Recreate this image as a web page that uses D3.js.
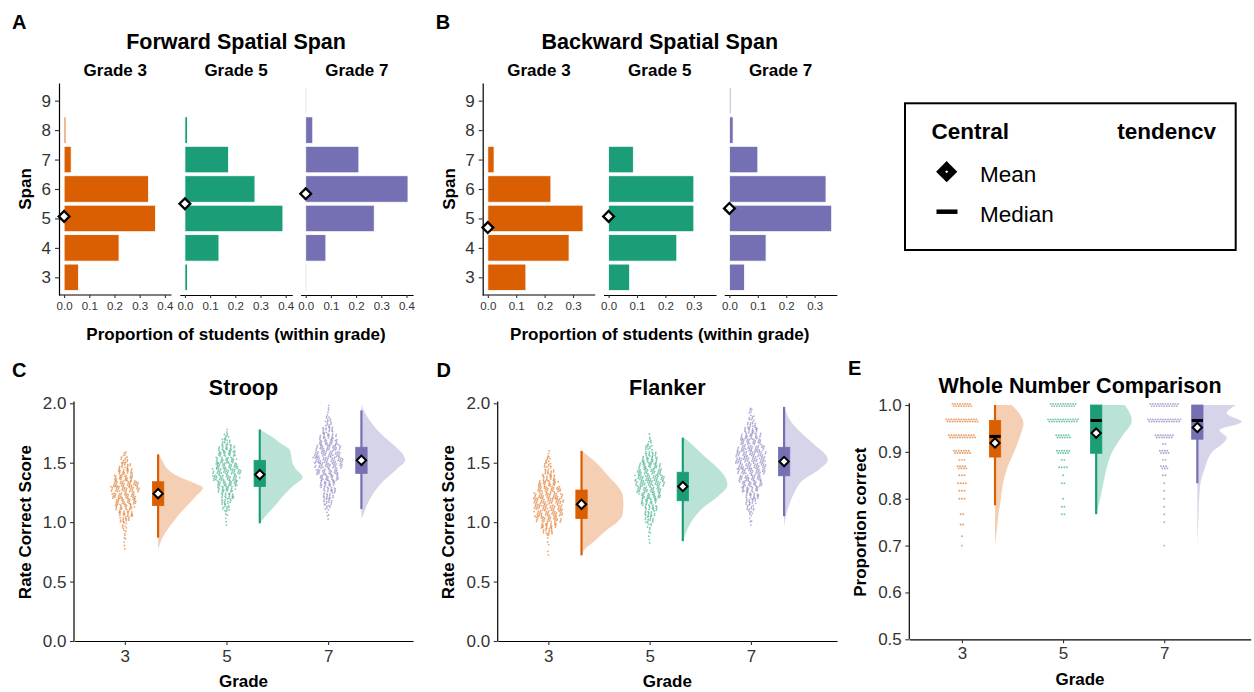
<!DOCTYPE html>
<html><head><meta charset="utf-8">
<script src="https://cdn.jsdelivr.net/npm/d3@7"></script>
<style>body{margin:0;background:#fff}svg{display:block}</style>
</head><body><svg id="chart" width="1254" height="692"></svg>
<script>
// ---------------- DATA ----------------
const gradeNums = [3, 5, 7];
const gradeLabels = ["Grade 3", "Grade 5", "Grade 7"];
const colors = ["#D95F02", "#1B9E77", "#7570B3"];

// Spatial span (proportion of students within grade), spans 3..9
const spanLevels = [3, 4, 5, 6, 7, 8, 9];
const fwdG3 = [0.057, 0.218, 0.363, 0.335, 0.028, 0.007, 0];
const fwdG5 = [0.010, 0.135, 0.389, 0.278, 0.173, 0.010, 0];
const fwdG7 = [0.003, 0.080, 0.272, 0.406, 0.211, 0.028, 0.003];
const fwdMeans = [5.07, 5.50, 5.84];
const bwdG3 = [0.134, 0.286, 0.335, 0.222, 0.022, 0, 0];
const bwdG5 = [0.074, 0.240, 0.300, 0.300, 0.087, 0, 0];
const bwdG7 = [0.053, 0.129, 0.360, 0.340, 0.100, 0.013, 0.005];
const bwdMeans = [4.69, 5.07, 5.34];
const fwdTicks = [0, 0.1, 0.2, 0.3, 0.4];
const bwdTicks = [0, 0.1, 0.2, 0.3];

// Stroop box stats per grade
const stroopLo = [0.87, 0.99, 1.11];
const stroopQ1 = [1.14, 1.30, 1.41];
const stroopQ3 = [1.34, 1.52, 1.63];
const stroopHi = [1.57, 1.78, 1.94];
const stroopMean = [1.24, 1.40, 1.52];
// Stroop half-violin [score, relative width]
const stroopDens3 = [[0.77,0],[0.87,0.1],[1.0,0.33],[1.12,0.6],[1.22,0.85],[1.29,1.0],[1.33,0.8],[1.38,0.48],[1.45,0.2],[1.5,0.12],[1.58,0]];
const stroopDens5 = [[0.99,0],[1.06,0.15],[1.15,0.37],[1.22,0.52],[1.3,0.73],[1.38,0.96],[1.45,0.8],[1.5,0.73],[1.56,0.7],[1.61,0.67],[1.66,0.48],[1.72,0.26],[1.78,0]];
const stroopDens7 = [[1.03,0],[1.07,0.05],[1.15,0.13],[1.25,0.28],[1.35,0.5],[1.45,0.8],[1.52,0.98],[1.58,0.91],[1.65,0.72],[1.75,0.42],[1.85,0.2],[1.92,0.08],[1.99,0]];
// Stroop dot counts per 0.05 bin, with first bin lower edge
const stroopBinStart = [0.75, 0.95, 1.0];
const stroopCounts3 = [1,2,3,4,6,14,20,24,28,32,36,34,26,20,14,10,4];
const stroopCounts5 = [1,2,4,10,14,18,22,28,34,36,30,26,24,20,12,7,2];
const stroopCounts7 = [1,3,8,12,15,18,21,26,30,35,38,35,31,26,21,15,9,6,3,2];

// Flanker
const flankerLo = [0.72, 0.84, 1.05];
const flankerQ1 = [1.03, 1.18, 1.39];
const flankerQ3 = [1.27, 1.42, 1.63];
const flankerHi = [1.60, 1.71, 1.97];
const flankerMean = [1.15, 1.30, 1.51];
const flankerDens3 = [[0.72,0],[0.77,0.07],[0.83,0.26],[0.88,0.4],[0.95,0.62],[1.0,0.8],[1.06,0.92],[1.15,0.94],[1.22,0.93],[1.29,0.84],[1.38,0.62],[1.5,0.33],[1.6,0]];
const flankerDens5 = [[0.83,0],[0.92,0.08],[1.02,0.22],[1.12,0.45],[1.22,0.8],[1.31,1.0],[1.38,0.95],[1.45,0.8],[1.55,0.5],[1.65,0.22],[1.72,0]];
const flankerDens7 = [[0.96,0],[1.05,0.04],[1.15,0.12],[1.25,0.23],[1.35,0.41],[1.45,0.81],[1.52,0.98],[1.57,0.93],[1.65,0.69],[1.75,0.39],[1.85,0.15],[1.97,0]];
const flankerBinStart = [0.70, 0.80, 0.95];
const flankerCounts3 = [1,1,2,3,14,22,32,36,38,38,36,32,25,18,14,10,7,3];
const flankerCounts5 = [1,2,3,6,12,15,18,22,27,33,37,37,33,27,22,16,10,5,2];
const flankerCounts7 = [1,3,6,10,15,19,23,28,31,35,38,39,38,34,29,25,19,12,8,4,1];

// Whole Number Comparison
const wncLo = [0.786, 0.767, 0.833];
const wncQ1 = [0.889, 0.897, 0.927];
const wncMedian = [0.933, 0.967, 0.967];
const wncQ3 = [0.967, 1.0, 1.0];
const wncHi = [1.0, 1.0, 1.0];
const wncMean = [0.919, 0.940, 0.952];
const wncDens3 = [[0.70,0],[0.733,0.04],[0.767,0.08],[0.8,0.13],[0.833,0.18],[0.867,0.28],[0.9,0.43],[0.933,0.56],[0.96,0.64],[1.0,0.38]];
const wncDens5 = [[0.767,0],[0.8,0.09],[0.833,0.16],[0.867,0.24],[0.9,0.36],[0.933,0.58],[0.967,0.8],[1.0,0.64]];
const wncDens7 = [[0.70,0],[0.75,0.02],[0.8,0.04],[0.833,0.07],[0.863,0.16],[0.897,0.31],[0.93,0.66],[0.946,0.5],[0.964,1.0],[0.982,0.66],[1.0,0.87]];
const wncDotVals3 = [1.0,0.967,0.933,0.9,0.883,0.867,0.85,0.833,0.817,0.8,0.767,0.745,0.72,0.7];
const wncDotCounts3 = [16,26,22,14,3,8,3,4,3,3,2,2,1,1];
const wncDotVals5 = [1.0,0.967,0.933,0.9,0.883,0.867,0.85,0.833,0.8,0.783,0.767];
const wncDotCounts5 = [21,25,12,11,2,4,1,2,1,2,2];
const wncDotVals7 = [1.0,0.967,0.933,0.917,0.9,0.883,0.867,0.85,0.833,0.817,0.8,0.783,0.767,0.75,0.7];
const wncDotCounts7 = [23,27,15,2,8,2,6,2,1,1,1,1,1,1,1];

const rcTicks = [0, 0.5, 1.0, 1.5, 2.0];
const wncTicks = [0.5, 0.6, 0.7, 0.8, 0.9, 1.0];

// ---------------- DRAWING ----------------
const FONT = "'Liberation Sans', Arial, Helvetica, sans-serif";
const svg = d3.select("#chart");
svg.append("rect").attr("width", 1254).attr("height", 692).attr("fill", "#fff");

const diamond = { draw(ctx, size) { const r = Math.sqrt(size / 2);
  ctx.moveTo(0, -r); ctx.lineTo(r, 0); ctx.lineTo(0, r); ctx.lineTo(-r, 0); ctx.closePath(); } };

function txt(x, y, s, size, weight, anchor, rot) {
  const t = svg.append("text").attr("font-family", FONT).attr("font-size", size)
    .attr("font-weight", weight || "normal").attr("text-anchor", anchor || "start")
    .attr("fill", "#000").text(s);
  if (rot) t.attr("transform", `translate(${x},${y}) rotate(${rot})`);
  else t.attr("x", x).attr("y", y);
  return t;
}
function styleAxis(g, fs) {
  g.attr("font-family", FONT).attr("font-size", fs);
  g.selectAll("path.domain").attr("stroke", "#000").attr("stroke-width", 1.2);
  g.selectAll(".tick line").attr("stroke", "#333").attr("stroke-width", 1.1);
  g.selectAll(".tick text").attr("fill", "#333");
}

// ----- span panels -----
function spanPanel(left, letter, title, series, means, ticks) {
  const y = d3.scaleLinear().domain([2.4, 9.6]).range([295, 83]);
  const xMax = d3.max(series.flat());
  const facetW = 112.5, gap = 8.3;
  const center = left + (3 * facetW + 2 * gap) / 2;
  series.forEach((vals, i) => {
    const x0 = left + i * (facetW + gap);
    const x = d3.scaleLinear().domain([-xMax * 0.05, xMax * 1.05]).range([x0, x0 + facetW]);
    const g = svg.append("g");
    g.selectAll("rect").data(vals).join("rect")
      .attr("x", x(0)).attr("width", d => Math.max(0, x(d) - x(0)))
      .attr("y", (d, j) => y(spanLevels[j] + 0.45))
      .attr("height", (d, j) => y(spanLevels[j] - 0.45) - y(spanLevels[j] + 0.45))
      .attr("fill", colors[i]).attr("stroke", "#fff").attr("stroke-width", 0.8);
    const ax = svg.append("g").attr("transform", `translate(0,${y(2.4)})`)
      .call(d3.axisBottom(x).tickValues(ticks).tickFormat(d3.format(".1f")).tickSize(3).tickPadding(4).tickSizeOuter(0));
    styleAxis(ax, 11.5);
    if (i === 0) ax.select("path.domain").attr("d", `M${left},0H${x0 + facetW}`);
    svg.append("path").attr("d", d3.symbol(diamond, 58)())
      .attr("transform", `translate(${x(0)},${y(means[i])})`)
      .attr("fill", "#fff").attr("stroke", "#000").attr("stroke-width", 2.3);
    txt((x0 + x0 + facetW) / 2, 76, gradeLabels[i], 17, "bold", "middle");
  });
  const ay = svg.append("g").attr("transform", `translate(${left},0)`)
    .call(d3.axisLeft(y).tickValues(spanLevels).tickSize(4).tickPadding(4).tickSizeOuter(0));
  styleAxis(ay, 17);
  txt(center, 48.5, title, 21.5, "bold", "middle");
  txt(center, 340, "Proportion of students (within grade)", 17, "bold", "middle");
  txt(left - 28, (y(9.6) + y(2.4)) / 2, "Span", 17, "bold", "middle", -90);
  txt(left - 47, 29.3, letter, 20, "bold", "start");
}
spanPanel(59, "A", "Forward Spatial Span", [fwdG3, fwdG5, fwdG7], fwdMeans, fwdTicks);
spanPanel(482.7, "B", "Backward Spatial Span", [bwdG3, bwdG5, bwdG7], bwdMeans, bwdTicks);

// ----- legend -----
svg.append("rect").attr("x", 905).attr("y", 103.3).attr("width", 330.7).attr("height", 146.7)
  .attr("fill", "none").attr("stroke", "#000").attr("stroke-width", 2);
txt(931.5, 138.5, "Central", 22.5, "bold", "start");
txt(1216, 138.5, "tendencv", 22.5, "bold", "end");
svg.append("path").attr("d", d3.symbol(diamond, 72)()).attr("transform", "translate(946.7,171.7)")
  .attr("fill", "#fff").attr("stroke", "#000").attr("stroke-width", 6.5);
txt(980, 181.5, "Mean", 22.5, "normal", "start");
svg.append("line").attr("x1", 936.5).attr("x2", 957.5).attr("y1", 211.7).attr("y2", 211.7)
  .attr("stroke", "#000").attr("stroke-width", 4.5);
txt(980, 221.5, "Median", 22.5, "normal", "start");

// ----- raincloud panels -----
const BOX_OFF = 0.655, BOX_HW = 0.112, DENS_W = 0.88;
const PHI1 = 0.7548776662, PHI2 = 0.5698402910; // low-discrepancy layout of dots inside each bin

function rainPanel(cfg) {
  const x = d3.scaleLinear().domain(cfg.xDomain).range([cfg.left, cfg.right]);
  const y = d3.scaleLinear().domain(cfg.yDomain).range([cfg.bottom, cfg.top]);
  const g = svg.append("g");
  gradeNums.forEach((gr, i) => {
    const bx = gr + BOX_OFF;
    // density
    const area = d3.area().curve(d3.curveMonotoneY)
      .y(d => y(d[0])).x0(x(bx)).x1(d => x(bx + d[1] * DENS_W));
    g.append("path").attr("d", area(cfg.dens[i])).attr("fill", colors[i]).attr("fill-opacity", 0.3);
    // dots
    const pts = [];
    if (cfg.mode === "bins") {
      const bw = 0.05;
      let k = 0;
      cfg.counts[i].forEach((n, b) => {
        const wpx = Math.max(1.5, n * 0.8);
        for (let j = 0; j < n; j++, k++) {
          const u = (0.5 + k * PHI1) % 1, v = (0.5 + k * PHI2) % 1;
          const val = cfg.binStart[i] + b * bw + v * bw;
          pts.push([x(gr) + (u - 0.5) * wpx, y(val)]);
        }
      });
    } else {
      cfg.dotVals[i].forEach((v, b) => {
        const n = cfg.dotCounts[i][b];
        const dx = n > 5 ? 1.25 : 2.6;
        for (let k = 0; k < n; k++) {
          pts.push([x(gr) + (k - (n - 1) / 2) * dx, y(v) + (n > 5 ? (k % 2 ? 1.1 : -1.1) : 0)]);
        }
      });
    }
    g.selectAll(null).data(pts).join("circle")
      .attr("cx", d => d[0]).attr("cy", d => d[1]).attr("r", cfg.dotR)
      .attr("fill", colors[i]).attr("fill-opacity", cfg.dotOp);
    // whisker
    g.append("line").attr("x1", x(bx)).attr("x2", x(bx)).attr("y1", y(cfg.lo[i])).attr("y2", y(cfg.hi[i]))
      .attr("stroke", colors[i]).attr("stroke-width", 2.2);
    // box
    g.append("rect").attr("x", x(bx - BOX_HW)).attr("width", x(bx + BOX_HW) - x(bx - BOX_HW))
      .attr("y", y(cfg.q3[i])).attr("height", y(cfg.q1[i]) - y(cfg.q3[i]))
      .attr("fill", colors[i]).attr("stroke", colors[i]).attr("stroke-width", 0.8);
    if (cfg.median) {
      g.append("line").attr("x1", x(bx - BOX_HW)).attr("x2", x(bx + BOX_HW))
        .attr("y1", y(cfg.median[i])).attr("y2", y(cfg.median[i]))
        .attr("stroke", "#000").attr("stroke-width", 3);
    }
    g.append("path").attr("d", d3.symbol(diamond, 44)())
      .attr("transform", `translate(${x(bx)},${y(cfg.mean[i])})`)
      .attr("fill", "#fff").attr("stroke", "#000").attr("stroke-width", 2);
  });
  const ay = svg.append("g").attr("transform", `translate(${cfg.left},0)`)
    .call(d3.axisLeft(y).tickValues(cfg.yTicks).tickFormat(d3.format(".1f")).tickSize(4).tickPadding(3.5).tickSizeOuter(0));
  styleAxis(ay, 17);
  ay.select("path.domain").attr("d", `M0,${cfg.bottom}V${cfg.top - 1.7}`);
  const ax = svg.append("g").attr("transform", `translate(0,${cfg.bottom})`)
    .call(d3.axisBottom(x).tickValues(gradeNums).tickFormat(d3.format("d")).tickSize(4).tickPadding(cfg.xPad).tickSizeOuter(0));
  styleAxis(ax, 17);
  const cx = (cfg.left + cfg.right) / 2;
  txt(cx, cfg.titleY, cfg.title, 21.5, "bold", "middle");
  txt(cx, cfg.xTitleY, "Grade", 17, "bold", "middle");
  txt(cfg.left - 43.5, (cfg.top + cfg.bottom) / 2, cfg.yTitle, 17, "bold", "middle", -90);
  txt(cfg.letterX, cfg.letterY, cfg.letter, 20, "bold", "start");
}

rainPanel({ left: 74, right: 413, top: 403.3, bottom: 641, xDomain: [2, 8.67], yDomain: [0, 2],
  yTicks: rcTicks, xPad: 5, title: "Stroop", titleY: 395, xTitleY: 687, yTitle: "Rate Correct Score",
  letter: "C", letterX: 12, letterY: 376.7, mode: "bins", dotR: 0.9, dotOp: 0.55,
  dens: [stroopDens3, stroopDens5, stroopDens7], binStart: stroopBinStart,
  counts: [stroopCounts3, stroopCounts5, stroopCounts7],
  lo: stroopLo, q1: stroopQ1, q3: stroopQ3, hi: stroopHi, mean: stroopMean });

rainPanel({ left: 497.7, right: 837, top: 403.3, bottom: 641, xDomain: [2, 8.70], yDomain: [0, 2],
  yTicks: rcTicks, xPad: 5, title: "Flanker", titleY: 395, xTitleY: 687, yTitle: "Rate Correct Score",
  letter: "D", letterX: 436.5, letterY: 376.7, mode: "bins", dotR: 0.9, dotOp: 0.55,
  dens: [flankerDens3, flankerDens5, flankerDens7], binStart: flankerBinStart,
  counts: [flankerCounts3, flankerCounts5, flankerCounts7],
  lo: flankerLo, q1: flankerQ1, q3: flankerQ3, hi: flankerHi, mean: flankerMean });

rainPanel({ left: 909.3, right: 1250.7, top: 405, bottom: 639.3, xDomain: [1.96, 8.71], yDomain: [0.5, 1.0],
  yTicks: wncTicks, xPad: 4, title: "Whole Number Comparison", titleY: 393.3, xTitleY: 685, yTitle: "Proportion correct",
  letter: "E", letterX: 848, letterY: 375, mode: "levels", dotR: 0.95, dotOp: 0.6,
  dens: [wncDens3, wncDens5, wncDens7],
  dotVals: [wncDotVals3, wncDotVals5, wncDotVals7], dotCounts: [wncDotCounts3, wncDotCounts5, wncDotCounts7],
  lo: wncLo, q1: wncQ1, q3: wncQ3, hi: wncHi, median: wncMedian, mean: wncMean });
</script></body></html>
